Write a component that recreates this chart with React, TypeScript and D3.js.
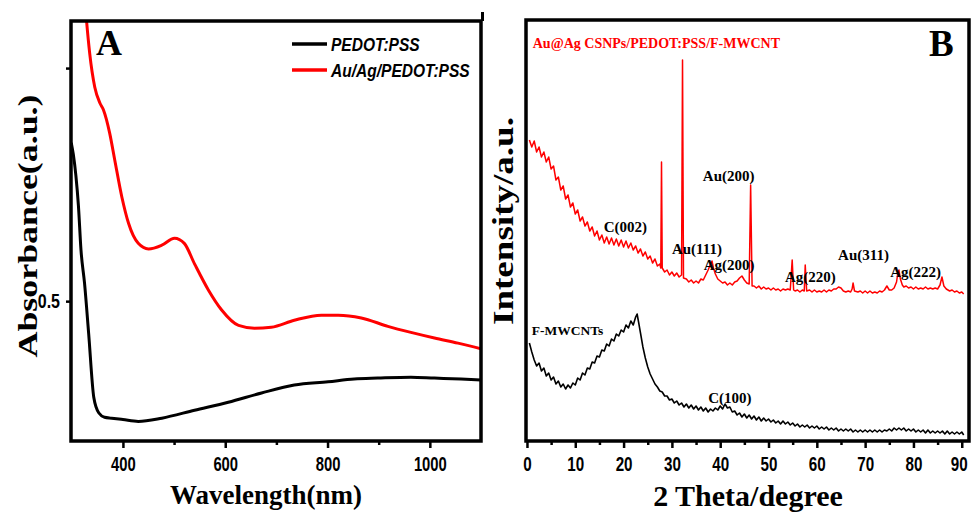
import { useEffect, useRef } from "react";
import * as d3 from "d3";

type Pt = [number, number];

const W = 974;
const H = 514;

// ---- Panel A: UV-vis absorbance (wavelength nm, absorbance a.u.)
const uvComposite: Pt[] = [
  [322, 1.2], [329, 1.1], [335, 1.032], [345, 0.959], [355, 0.925], [362, 0.91], [374, 0.861],
  [384, 0.803], [398, 0.723], [411, 0.667], [430, 0.624], [450, 0.612], [476, 0.62],
  [501, 0.635], [520, 0.624], [540, 0.58], [567, 0.524], [593, 0.481], [626, 0.448],
  [657, 0.442], [690, 0.444], [735, 0.459], [788, 0.47], [821, 0.47], [866, 0.464],
  [918, 0.446], [963, 0.433], [1009, 0.421], [1055, 0.41], [1100, 0.398],
];
const uvPedot: Pt[] = [
  [299, 0.84], [303, 0.815], [308, 0.77], [313, 0.705], [318, 0.61],
  [325, 0.538], [333, 0.431], [343, 0.294], [353, 0.26], [364, 0.251], [378, 0.249],
  [400, 0.246], [430, 0.242], [476, 0.249], [540, 0.266], [606, 0.283], [671, 0.303],
  [735, 0.32], [801, 0.327], [852, 0.333], [898, 0.335], [963, 0.337], [1009, 0.335],
  [1061, 0.333], [1100, 0.331],
];
const uvXTicks = [400, 600, 800, 1000];
const uvXMinor = [500, 700, 900];
const uvYTicks = [0.5, 1.0];
const uvYLabels = ["0.5", ""];
const uvLegend = ["PEDOT:PSS", "Au/Ag/PEDOT:PSS"];

// ---- Panel B: XRD (2 theta degree, intensity a.u.)
const xrdComposite: Pt[] = [
  [0.5, 301], [1, 294], [1.5, 300], [2, 289], [2.5, 294], [3, 284], [3.5, 289], [4, 279], [4.5, 284],
  [5, 272], [5.5, 275], [6, 261], [6.5, 264], [7, 251], [7.5, 255], [8, 242], [8.5, 246], [9, 234],
  [9.5, 238], [10, 227], [10.5, 231], [11, 220], [11.5, 224], [12, 215], [12.5, 219], [13, 210],
  [13.5, 214], [14, 205], [14.5, 210], [15, 201], [15.5, 206], [16, 198], [16.5, 204], [17, 197],
  [17.5, 203], [18, 196], [18.5, 202], [19, 195], [19.5, 201], [20, 194], [20.5, 200], [21, 193],
  [21.5, 198], [22, 191], [22.5, 195], [23, 188], [23.5, 192], [24, 185], [24.5, 189], [25, 182],
  [25.5, 185], [26, 178], [26.5, 182], [27, 175], [27.5, 177], [27.7, 173], [27.85, 279], [28, 173],
  [28.5, 169], [29, 171], [29.5, 166], [30, 169], [30.5, 165], [31, 168], [31.5, 164], [32, 166],
  [32.2, 381], [32.4, 163], [33, 162], [33.5, 159], [34, 161], [34.5, 158], [35, 160], [35.5, 158],
  [36, 162], [36.5, 161], [37, 166], [37.5, 171], [38, 177], [38.3, 180], [38.6, 173], [39, 167],
  [39.5, 162], [40, 160], [40.5, 158], [41, 159], [41.5, 156], [42, 158], [42.5, 156], [43, 159],
  [43.5, 160], [44, 163], [44.5, 165], [45, 161], [45.5, 158], [46, 157], [46.3, 256], [46.6, 155],
  [47, 155], [47.5, 153], [48, 155], [48.5, 152], [49, 154], [49.5, 152], [50, 153], [50.5, 151],
  [51, 153], [51.5, 151], [52, 152], [52.5, 150], [53, 152], [53.5, 151], [54, 152], [54.5, 151],
  [54.9, 181], [55.2, 151], [55.5, 150], [56, 151], [56.5, 149], [57, 151], [57.4, 150], [57.6, 176],
  [57.9, 150], [58.5, 151], [59, 149], [59.5, 151], [60, 149], [60.5, 150], [61, 149], [61.5, 151],
  [62, 149], [62.5, 151], [63, 150], [63.5, 152], [64, 152], [64.5, 154], [65, 153], [65.5, 150],
  [66, 149], [66.5, 150], [67, 149], [67.3, 152], [67.5, 158], [67.8, 150], [68.5, 149], [69, 150],
  [69.5, 148], [70, 150], [70.5, 148], [71, 150], [71.5, 148], [72, 149], [72.5, 148], [73, 150],
  [73.5, 149], [74, 151], [74.5, 155], [75, 151], [75.5, 151], [76, 153], [76.5, 159], [76.8, 169],
  [77, 171], [77.3, 162], [77.7, 156], [78, 154], [78.5, 155], [79, 153], [79.5, 154], [80, 152],
  [80.5, 154], [81, 152], [81.5, 153], [82, 152], [82.5, 154], [83, 152], [83.5, 153], [84, 152],
  [84.5, 153], [85, 152], [85.5, 156], [85.9, 164], [86.3, 155], [86.8, 152], [87.5, 150], [88, 151],
  [88.5, 149], [89, 150], [89.5, 148], [90, 149], [90.4, 147],
];
const xrdMwcnt: Pt[] = [
  [0.5, 98], [1, 89], [1.5, 81], [2, 75], [2.5, 78], [3, 70], [3.5, 73], [4, 65], [4.5, 68], [5, 61],
  [5.5, 64], [6, 57], [6.5, 60], [7, 54], [7.5, 57], [8, 52], [8.5, 56], [9, 53], [9.5, 58], [10, 56],
  [10.5, 63], [11, 61], [11.5, 68], [12, 66], [12.5, 73], [13, 72], [13.5, 79], [14, 78], [14.5, 85],
  [15, 84], [15.5, 91], [16, 90], [16.5, 97], [17, 95], [17.5, 102], [18, 100], [18.5, 107], [19, 105],
  [19.5, 111], [20, 109], [20.5, 116], [21, 113], [21.5, 120], [22, 116], [22.5, 124], [22.8, 127],
  [23.1, 119], [23.5, 108], [24, 94], [24.5, 83], [25, 74], [25.5, 67], [26, 62], [26.5, 57], [27, 54],
  [27.5, 50], [28, 49], [28.5, 45], [29, 45], [29.5, 41], [30, 42], [30.5, 38], [31, 40], [31.5, 36],
  [32, 38], [32.5, 34], [33, 37], [33.5, 33], [34, 36], [34.5, 32], [35, 35], [35.5, 31], [36, 34],
  [36.5, 30], [37, 33], [37.5, 29], [38, 32], [38.5, 30], [39, 33], [39.5, 31], [40, 35], [40.5, 32],
  [41, 37], [41.5, 33], [42, 34], [42.5, 29], [43, 30], [43.5, 26], [44, 28], [44.5, 24], [45, 27],
  [45.5, 23], [46, 26], [46.5, 22], [47, 25], [47.5, 21], [48, 24], [48.5, 20], [49, 23], [49.5, 20],
  [50, 22], [50.5, 19], [51, 21], [51.5, 18], [52, 20], [52.5, 17], [53, 20], [53.5, 17], [54, 19],
  [54.5, 16], [55, 18], [55.5, 15], [56, 17], [56.5, 14], [57, 16], [57.5, 14], [58, 16], [58.5, 13],
  [59, 15], [59.5, 13], [60, 15], [60.5, 12], [61, 14], [61.5, 12], [62, 14], [62.5, 11], [63, 13],
  [63.5, 11], [64, 13], [64.5, 10], [65, 12], [65.5, 10], [66, 12], [66.5, 10], [67, 12], [67.5, 9],
  [68, 11], [68.5, 9], [69, 11], [69.5, 9], [70, 11], [70.5, 9], [71, 11], [71.5, 9], [72, 11],
  [72.5, 9], [73, 11], [73.5, 9], [74, 11], [74.5, 10], [75, 12], [75.5, 10], [76, 13], [76.5, 11],
  [77, 13], [77.5, 11], [78, 13], [78.5, 10], [79, 12], [79.5, 10], [80, 12], [80.5, 9], [81, 11],
  [81.5, 9], [82, 11], [82.5, 8], [83, 11], [83.5, 8], [84, 10], [84.5, 8], [85, 10], [85.5, 8],
  [86, 10], [86.5, 7], [87, 10], [87.5, 7], [88, 9], [88.5, 7], [89, 9], [89.5, 7], [90, 9], [90.4, 6],
];
const xrdTicks = [0, 10, 20, 30, 40, 50, 60, 70, 80, 90];
const xrdMinor = [5, 15, 25, 35, 45, 55, 65, 75, 85];
// label text, 2theta of its left edge, intensity at its baseline
const peakLabels: Array<[string, number, number]> = [
  ["C(002)", 15.9, 209],
  ["Au(111)", 30.0, 187],
  ["Ag(200)", 36.6, 171],
  ["Au(200)", 36.4, 260],
  ["Ag(220)", 53.4, 159],
  ["Au(311)", 64.4, 181],
  ["Ag(222)", 75.2, 164],
  ["C(100)", 37.5, 38],
];
const mwcntLabel: [string, number, number] = ["F-MWCNTs", 1.0, 106];
const compositeLabel: [string, number, number] = ["Au@Ag CSNPs/PEDOT:PSS/F-MWCNT", 1.2, 393];

const SERIF = "'Liberation Serif', 'Times New Roman', serif";
const SANS = "'Liberation Sans', Arial, sans-serif";
const RED = "#ff0000";

// condense text horizontally (the original uses a narrow face)
function squeeze(sel: d3.Selection<any, any, any, any>, factor: number) {
  sel.each(function (this: SVGTextElement) {
    const len = this.getComputedTextLength();
    this.setAttribute("textLength", String(len * factor));
    this.setAttribute("lengthAdjust", "spacingAndGlyphs");
  });
}

export default function App() {
  const ref = useRef<SVGSVGElement>(null);

  useEffect(() => {
    if (!ref.current) return;
    const svg = d3.select(ref.current);
    svg.selectAll("*").remove();

    const styleAxis = (
      g: d3.Selection<SVGGElement, unknown, null, undefined>,
      size: number,
      factor: number
    ) => {
      g.select(".domain").remove();
      g.selectAll(".tick line").attr("stroke", "#000").attr("stroke-width", 2.5);
      const t = g.selectAll(".tick text")
        .attr("fill", "#000")
        .attr("font-family", SANS)
        .attr("font-weight", "bold")
        .attr("font-size", size);
      squeeze(t, factor);
    };

    // ================= Panel A =================
    const a = { left: 71, top: 21, right: 481, bottom: 441 };
    const xA = d3.scaleLinear().domain([298.5, 1100]).range([a.left, a.right]);
    const yA = d3.scaleLinear().domain([0.2, 1.101]).range([a.bottom, a.top]);

    svg.append("clipPath").attr("id", "clipA")
      .append("rect").attr("x", a.left).attr("y", a.top)
      .attr("width", a.right - a.left).attr("height", a.bottom - a.top);

    const lineA = d3.line<Pt>().x((d) => xA(d[0])).y((d) => yA(d[1])).curve(d3.curveMonotoneX);
    const gA = svg.append("g").attr("clip-path", "url(#clipA)");
    gA.append("path").attr("d", lineA(uvPedot)).attr("fill", "none")
      .attr("stroke", "#000").attr("stroke-width", 3).attr("stroke-linejoin", "round");
    gA.append("path").attr("d", lineA(uvComposite)).attr("fill", "none")
      .attr("stroke", RED).attr("stroke-width", 3).attr("stroke-linejoin", "round");

    // x axis A
    svg.append("g").attr("transform", `translate(0,${a.bottom})`)
      .call(d3.axisBottom(xA).tickValues(uvXTicks).tickSize(7).tickPadding(9).tickFormat(d3.format("d")))
      .call((g) => styleAxis(g, 20, 0.74));
    svg.append("g").attr("transform", `translate(0,${a.bottom})`)
      .call(d3.axisBottom(xA).tickValues(uvXMinor).tickSize(4).tickFormat(() => ""))
      .call((g) => styleAxis(g, 20, 0.74));
    // y axis A
    svg.append("g").attr("transform", `translate(${a.left},0)`)
      .call(d3.axisLeft(yA).tickValues(uvYTicks).tickSize(5).tickPadding(6)
        .tickFormat((_, i) => uvYLabels[i]))
      .call((g) => styleAxis(g, 20, 0.8));

    // frame A
    svg.append("rect").attr("x", a.left).attr("y", a.top)
      .attr("width", a.right - a.left).attr("height", a.bottom - a.top)
      .attr("fill", "none").attr("stroke", "#000").attr("stroke-width", 3.5);
    svg.append("line").attr("x1", a.right + 1.5).attr("x2", a.right + 1.5)
      .attr("y1", 12).attr("y2", a.top).attr("stroke", "#000").attr("stroke-width", 3);

    // legend A
    const legColors = ["#000", RED];
    uvLegend.forEach((name, i) => {
      const ly = 44 + i * 26;
      svg.append("line").attr("x1", 292).attr("x2", 327).attr("y1", ly).attr("y2", ly)
        .attr("stroke", legColors[i]).attr("stroke-width", 3.5);
      const t = svg.append("text").attr("x", 331).attr("y", ly + 7)
        .attr("font-family", SANS).attr("font-weight", "bold").attr("font-style", "italic")
        .attr("font-size", 18.5).attr("fill", "#000").text(name);
      squeeze(t, 0.84);
    });

    svg.append("text").attr("x", 96).attr("y", 55)
      .attr("font-family", SERIF).attr("font-weight", "bold").attr("font-size", 36)
      .attr("fill", "#000").text("A");

    svg.append("text").attr("x", (a.left + a.right) / 2 - 10).attr("y", 504)
      .attr("text-anchor", "middle").attr("font-family", SERIF).attr("font-weight", "bold")
      .attr("font-size", 27).attr("fill", "#000").text("Wavelength(nm)");
    svg.append("text")
      .attr("transform", `translate(37,226) rotate(-90)`)
      .attr("text-anchor", "middle").attr("font-family", SERIF).attr("font-weight", "bold")
      .attr("font-size", 28).attr("fill", "#000")
      .attr("textLength", 263).attr("lengthAdjust", "spacingAndGlyphs")
      .text("Absorbance(a.u.)");

    // ================= Panel B =================
    const b = { left: 526, top: 20, right: 969, bottom: 441 };
    const xB = d3.scaleLinear().domain([-0.2, 91.5]).range([b.left, b.right]);
    const yB = d3.scaleLinear().domain([0, 421]).range([b.bottom, b.top]);

    svg.append("clipPath").attr("id", "clipB")
      .append("rect").attr("x", b.left).attr("y", b.top)
      .attr("width", b.right - b.left).attr("height", b.bottom - b.top);

    const lineB = d3.line<Pt>().x((d) => xB(d[0])).y((d) => yB(d[1]));
    const gB = svg.append("g").attr("clip-path", "url(#clipB)");
    gB.append("path").attr("d", lineB(xrdMwcnt)).attr("fill", "none")
      .attr("stroke", "#000").attr("stroke-width", 1.6).attr("stroke-linejoin", "round");
    gB.append("path").attr("d", lineB(xrdComposite)).attr("fill", "none")
      .attr("stroke", RED).attr("stroke-width", 1.5).attr("stroke-linejoin", "round");

    svg.append("g").attr("transform", `translate(0,${b.bottom})`)
      .call(d3.axisBottom(xB).tickValues(xrdTicks).tickSize(7).tickPadding(9).tickFormat(d3.format("d")))
      .call((g) => styleAxis(g, 20, 0.76))
      // the last label sits against the page edge; pull it in a little
      .call((g) => g.selectAll<SVGTextElement, number>(".tick text")
        .filter((d) => d === 90).attr("dx", -3));
    svg.append("g").attr("transform", `translate(0,${b.bottom})`)
      .call(d3.axisBottom(xB).tickValues(xrdMinor).tickSize(4).tickFormat(() => ""))
      .call((g) => styleAxis(g, 20, 0.76));

    svg.append("rect").attr("x", b.left).attr("y", b.top)
      .attr("width", b.right - b.left).attr("height", b.bottom - b.top)
      .attr("fill", "none").attr("stroke", "#000").attr("stroke-width", 3.5);

    const label = (d: [string, number, number], size: number, color: string) =>
      svg.append("text").attr("x", xB(d[1])).attr("y", yB(d[2]))
        .attr("font-family", SERIF).attr("font-weight", "bold").attr("font-size", size)
        .attr("fill", color).text(d[0]);

    peakLabels.forEach((d) => label(d, 15, "#000"));
    label(mwcntLabel, 13.5, "#000");
    label(compositeLabel, 14, RED);

    svg.append("text").attr("x", 929).attr("y", 56)
      .attr("font-family", SERIF).attr("font-weight", "bold").attr("font-size", 37)
      .attr("fill", "#000").text("B");

    svg.append("text").attr("x", 748).attr("y", 506)
      .attr("text-anchor", "middle").attr("font-family", SERIF).attr("font-weight", "bold")
      .attr("font-size", 30).attr("fill", "#000").text("2 Theta/degree");
    svg.append("text")
      .attr("transform", `translate(513,221) rotate(-90)`)
      .attr("text-anchor", "middle").attr("font-family", SERIF).attr("font-weight", "bold")
      .attr("font-size", 29).attr("fill", "#000")
      .attr("textLength", 208).attr("lengthAdjust", "spacingAndGlyphs")
      .text("Intensity/a.u.");
  }, []);

  return (
    <svg
      ref={ref}
      width={W}
      height={H}
      style={{ position: "absolute", left: 0, top: 0, background: "#fff" }}
    />
  );
}
